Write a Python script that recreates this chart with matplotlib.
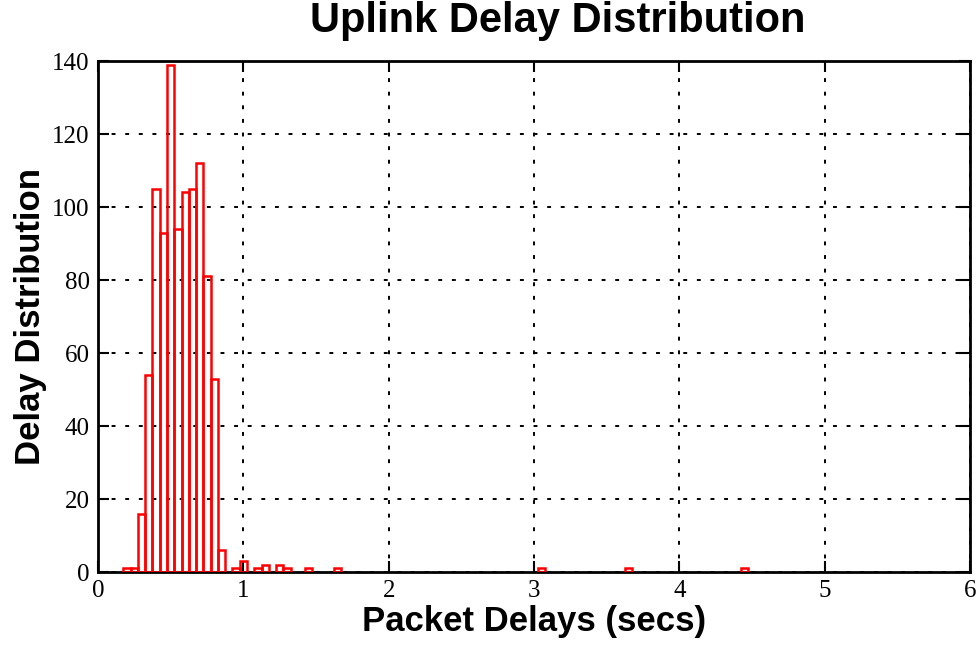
import matplotlib.pyplot as plt

# bin centers (secs) and counts, bin width 0.05
delays = [0.20, 0.25, 0.30, 0.35, 0.40, 0.45, 0.50, 0.55, 0.60, 0.65, 0.70,
          0.75, 0.80, 0.85, 0.95, 1.00, 1.10, 1.15, 1.25, 1.30, 1.45, 1.65,
          3.05, 3.65, 4.45]
counts = [1, 1, 16, 54, 105, 93, 139, 94, 104, 105, 112,
          81, 53, 6, 1, 3, 1, 2, 2, 1, 1, 1,
          1, 1, 1]
bin_width = 0.05

xticks = [0, 1, 2, 3, 4, 5, 6]
yticks = [0, 20, 40, 60, 80, 100, 120, 140]

fig = plt.figure(figsize=(9.76, 6.59), dpi=100)
ax = fig.add_axes([0.1004, 0.132, 0.8935, 0.7754])

ax.bar(delays, counts, width=bin_width, fill=False, edgecolor="red",
       linewidth=1.8, zorder=3)

ax.set_xlim(0, 6)
ax.set_ylim(0, 140)
ax.set_xticks(xticks)
ax.set_yticks(yticks)
ax.grid(True, color="black", linestyle=(0, (2, 5)), linewidth=1.4)

for s in ax.spines.values():
    s.set_linewidth(2)
ax.tick_params(direction="in", length=8, width=1.5, top=True, right=True,
               labelsize=18, pad=6)
for lab in ax.get_xticklabels() + ax.get_yticklabels():
    lab.set_family("Liberation Serif")

# gnuplot-style title sits a bit right of the axes centre
fig.text(0.571, 0.968, "Uplink Delay Distribution", fontsize=30,
         fontweight="bold", family="Liberation Sans", ha="center", va="center")
ax.set_xlabel("Packet Delays (secs)", fontsize=25, fontweight="bold",
              family="Liberation Sans", labelpad=2)
ax.set_ylabel("Delay Distribution", fontsize=25, fontweight="bold",
              family="Liberation Sans", labelpad=4)

fig.savefig("out.png", dpi=100)
